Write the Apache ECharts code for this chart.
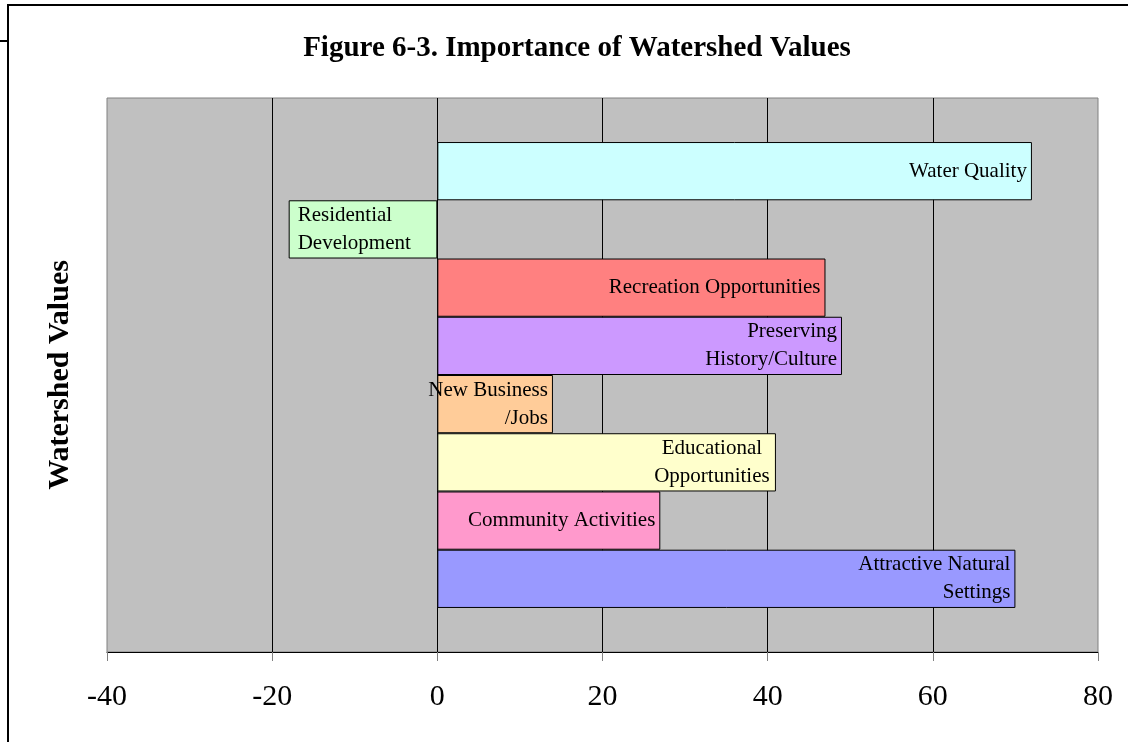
<!DOCTYPE html>
<html>
<head>
<meta charset="utf-8">
<script src="https://cdn.jsdelivr.net/npm/echarts@6/dist/echarts.min.js"></script>
<style>
  html, body { margin: 0; padding: 0; background: #fff; }
  #wrap { position: relative; width: 1128px; height: 742px; overflow: hidden; }
  #chart { position: absolute; left: 0; top: 0; width: 1128px; height: 742px; }
  .frame-top { position: absolute; left: 7px; top: 4px; right: 0; height: 2px; background: #000; }
  .frame-left { position: absolute; left: 7px; top: 4px; bottom: 0; width: 2px; background: #000; }
  .frame-stub { position: absolute; left: 0; top: 40px; width: 8px; height: 2px; background: #000; }
</style>
</head>
<body>
<div id="wrap">
  <div id="chart"></div>
  <div class="frame-top"></div>
  <div class="frame-left"></div>
  <div class="frame-stub"></div>
</div>
<script>
// watershed values, top to bottom
const categories = [
  "Water Quality",
  "Residential Development",
  "Recreation Opportunities",
  "Preserving History/Culture",
  "New Business/Jobs",
  "Educational Opportunities",
  "Community Activities",
  "Attractive Natural Settings",
];
const values = [72, -18, 47, 49, 14, 41, 27, 70];
const labelTexts = [
  "Water Quality",
  "Residential\nDevelopment",
  "Recreation Opportunities",
  "Preserving\nHistory/Culture",
  "New Business\n/Jobs",
  "{c|Educational}\n{c|Opportunities}",
  "Community Activities",
  "Attractive Natural\nSettings",
];
const xTicks = [-40, -20, 0, 20, 40, 60, 80];

const palette = ["#CCFFFF", "#CCFFCC", "#FF8080", "#CC99FF", "#FFCC99", "#FFFFCC", "#FF99CC", "#9999FF"];
const serif = "'Liberation Serif', 'Times New Roman', serif";

const chart = echarts.init(document.getElementById("chart"), null, { renderer: "canvas" });

const series = categories.map((name, i) => ({
  name,
  type: "bar",
  data: [values[i]],
  barGap: "0%",
  barCategoryGap: "15.9%",
  itemStyle: { color: palette[i], borderColor: "#000", borderWidth: 1 },
  label: {
    show: true,
    position: values[i] < 0 ? "insideLeft" : "insideRight",
    distance: values[i] < 0 ? 9 : 5,
    formatter: () => labelTexts[i],
    color: "#000",
    fontFamily: serif,
    fontSize: 21,
    lineHeight: 28,
    align: values[i] < 0 ? "left" : "right",
    overflow: "none",
    rich: {
      c: { width: 118, align: "center", fontFamily: serif, fontSize: 21, lineHeight: 28, color: "#000" },
    },
  },
  silent: true,
}));

chart.setOption({
  animation: false,
  title: {
    text: "Figure 6-3. Importance of Watershed Values",
    left: 572,
    top: 29,
    textAlign: "center",
    textStyle: { fontFamily: serif, fontSize: 29, fontWeight: "bold", color: "#000" },
  },
  grid: {
    left: 107,
    right: 30,
    top: 98,
    bottom: 90,
    show: true,
    backgroundColor: "#C0C0C0",
    borderColor: "#808080",
    borderWidth: 1,
  },
  xAxis: {
    type: "value",
    min: xTicks[0],
    max: xTicks[xTicks.length - 1],
    interval: 20,
    axisLine: { show: true, lineStyle: { color: "#000", width: 1 } },
    axisTick: { show: true, inside: false, length: 9, lineStyle: { color: "#808080" } },
    axisLabel: { color: "#000", fontFamily: serif, fontSize: 30, margin: 30 },
    splitLine: { show: true, showMinLine: false, showMaxLine: false, lineStyle: { color: "#000", width: 1 } },
  },
  yAxis: {
    type: "category",
    data: [""],
    inverse: true,
    name: "Watershed Values",
    nameLocation: "middle",
    nameRotate: 90,
    nameGap: 32,
    nameTextStyle: { fontFamily: serif, fontSize: 30, fontWeight: "bold", color: "#000" },
    axisLine: { show: false },
    axisTick: { show: false },
    axisLabel: { show: false },
    splitLine: { show: false },
  },
  series,
});
</script>
</body>
</html>
